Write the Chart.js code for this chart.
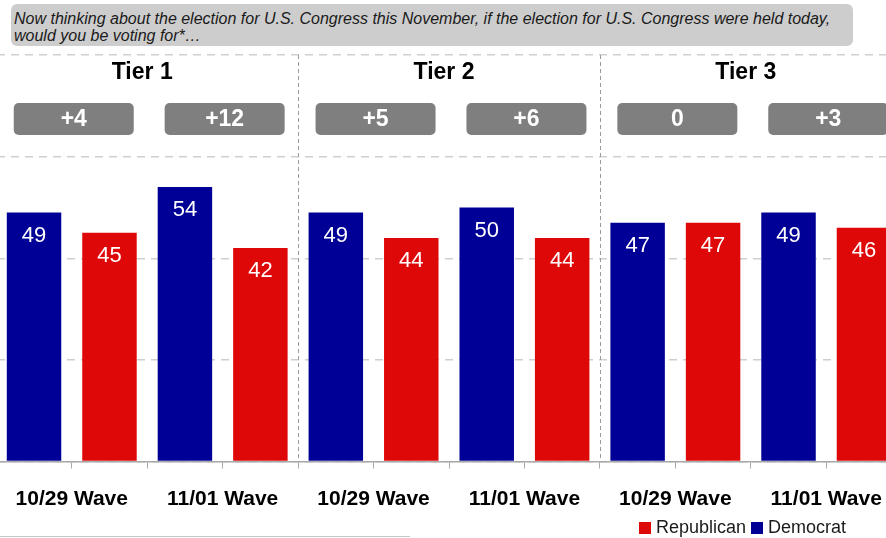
<!DOCTYPE html>
<html>
<head>
<meta charset="utf-8">
<script src="https://cdn.jsdelivr.net/npm/chart.js@4/dist/chart.umd.min.js"></script>
<style>
  html, body { margin: 0; padding: 0; background: #fff; overflow: hidden; }
  body { width: 886px; height: 538px; position: relative; font-family: "Liberation Sans", Arial, sans-serif; }
  #question {
    position: absolute; left: 11px; top: 4px; width: 842px; height: 42px;
    background: #cdcdcd; border-radius: 6px; box-sizing: border-box;
    padding: 6px 0 0 3px; font-style: italic; font-size: 16px; line-height: 17px; color: #1a1a1a;
  }
  #chart { position: absolute; left: -20px; top: 0; }
  #legend { position: absolute; left: 639px; top: 517px; font-size: 18px; color: #1a1a1a; white-space: nowrap; }
  #legend span.sw { display: inline-block; width: 12px; height: 12px; margin-right: 5px; vertical-align: -1px; }
  #legend span.item { margin-right: 5px; }
  #rule { position: absolute; left: 0; top: 536px; width: 410px; height: 1px; background: #c8c8c8; }
</style>
</head>
<body>
<div id="question">Now thinking about the election for U.S. Congress this November, if the election for U.S. Congress were held today,<br>would you be voting for*…</div>
<canvas id="chart" width="940" height="538"></canvas>
<div id="legend"><span class="item"><span class="sw" style="background:#df0808"></span>Republican</span><span class="item"><span class="sw" style="background:#000096"></span>Democrat</span></div>
<div id="rule"></div>
<script>
// values
const tiers = ['Tier 1', 'Tier 2', 'Tier 3'];
const waves = ['10/29 Wave', '11/01 Wave'];
const democrat = [49, 54, 49, 50, 47, 49];
const republican = [45, 42, 44, 44, 47, 46];

const BLUE = '#000096';
const RED = '#df0808';

// each wave gets two slots: democrat bar then republican bar
const slots = [];
const demSlots = [];
const repSlots = [];
const waveLabels = [];
democrat.forEach((d, i) => {
    slots.push('D' + i, 'R' + i);
    demSlots.push(d, null);
    repSlots.push(null, republican[i]);
    waveLabels.push(waves[i % waves.length]);
});

const margins = democrat.map((d, i) => {
    const diff = d - republican[i];
    return diff > 0 ? '+' + diff : String(diff);
});

const FONT = '"Liberation Sans", Arial, sans-serif';

function roundRect(ctx, x, y, w, h, r) {
    ctx.beginPath();
    ctx.moveTo(x + r, y);
    ctx.arcTo(x + w, y, x + w, y + h, r);
    ctx.arcTo(x + w, y + h, x, y + h, r);
    ctx.arcTo(x, y + h, x, y, r);
    ctx.arcTo(x, y, x + w, y, r);
    ctx.closePath();
}

const overlay = {
    id: 'overlay',
    beforeDatasetsDraw(chart) {
        const {ctx, chartArea, scales: {x}} = chart;
        ctx.save();
        // dashed separators between tiers
        ctx.strokeStyle = '#9a9a9a';
        ctx.lineWidth = 1;
        ctx.setLineDash([4, 3]);
        for (let t = 1; t < tiers.length; t++) {
            const px = Math.round(x.getPixelForValue(t * 4 - 0.5)) + 0.5;
            ctx.beginPath();
            ctx.moveTo(px, chartArea.top);
            ctx.lineTo(px, chartArea.bottom);
            ctx.stroke();
        }
        ctx.setLineDash([]);
        // tier titles
        ctx.fillStyle = '#000';
        ctx.font = 'bold 23px ' + FONT;
        ctx.textAlign = 'center';
        ctx.textBaseline = 'middle';
        tiers.forEach((t, i) => {
            const cx = x.getPixelForValue(i * 4 + 1.5);
            ctx.fillText(t, cx - 5, 73);
        });
        // margin boxes
        margins.forEach((m, i) => {
            const cx = x.getPixelForValue(i * 2 + 0.5) + 2;
            ctx.fillStyle = '#7f7f7f';
            roundRect(ctx, cx - 60, 103, 120, 32, 5);
            ctx.fill();
            ctx.fillStyle = '#fff';
            ctx.font = 'bold 23px ' + FONT;
            ctx.fillText(m, cx, 120);
        });
        ctx.restore();
    },
    afterDatasetsDraw(chart) {
        const {ctx} = chart;
        ctx.save();
        ctx.fillStyle = '#fff';
        ctx.font = '22px ' + FONT;
        ctx.textAlign = 'center';
        ctx.textBaseline = 'middle';
        chart.data.datasets.forEach((ds, di) => {
            chart.getDatasetMeta(di).data.forEach((bar, i) => {
                if (ds.data[i] == null) return;
                ctx.fillText(ds.data[i], bar.x, bar.y + 23);
            });
        });
        ctx.restore();
    }
};

new Chart(document.getElementById('chart'), {
    type: 'bar',
    data: {
        labels: slots,
        datasets: [
            {label: 'Democrat', data: demSlots, backgroundColor: BLUE},
            {label: 'Republican', data: repSlots, backgroundColor: RED}
        ]
    },
    options: {
        responsive: false,
        animation: false,
        grouped: false,
        barPercentage: 0.722,
        categoryPercentage: 1,
        layout: {padding: {left: 16.3, right: 18.3, top: 55, bottom: 0}},
        plugins: {legend: {display: false}, tooltip: {enabled: false}},
        scales: {
            y: {
                min: 0, max: 80,
                ticks: {display: false, stepSize: 20},
                grid: {color: '#cfcfcf', lineWidth: 1.5, drawTicks: false},
                border: {display: true, color: 'rgba(0,0,0,0)', dash: [8, 6]},
                afterFit(s) { s.width = 0; }
            },
            x: {
                weight: 0,
                ticks: {display: false},
                grid: {drawOnChartArea: false, color: '#a8a8a8', tickLength: 7, lineWidth: 1},
                border: {color: '#a8a8a8', width: 1.5},
                afterFit(s) { s.height = 8; }
            },
            x2: {
                type: 'category',
                position: 'bottom',
                weight: 1,
                labels: waveLabels,
                offset: true,
                grid: {display: false},
                border: {display: false},
                ticks: {color: '#000', padding: 9, maxRotation: 0, autoSkip: false, font: {family: FONT, size: 21, weight: 'bold'}},
                afterFit(s) { s.height = 538 - 461.5 - 8; }
            }
        }
    },
    plugins: [overlay]
});
</script>
</body>
</html>
